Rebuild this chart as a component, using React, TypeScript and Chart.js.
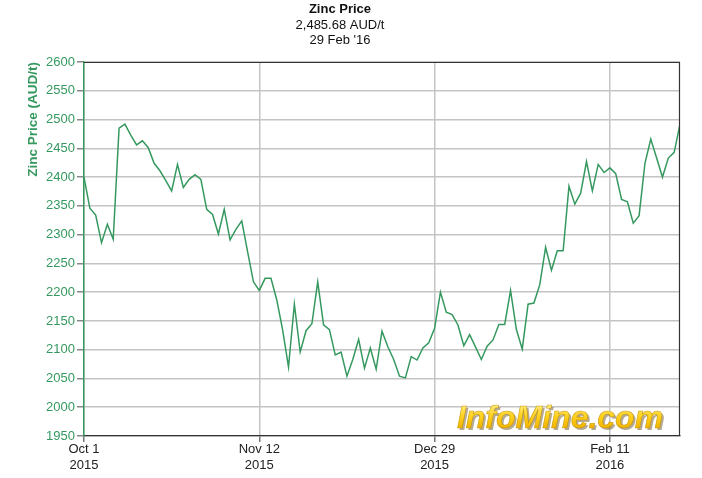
import { useEffect, useRef } from 'react';
import { Chart, registerables } from 'chart.js';

Chart.register(...registerables);

// Zinc price, AUD/t, daily from Oct 1 2015 to Feb 29 2016
const prices = [
  2400, 2346, 2334, 2286, 2318, 2292, 2485, 2492, 2473, 2456,
  2463, 2451, 2424, 2411, 2394, 2376, 2422, 2382, 2396, 2404,
  2396, 2344, 2335, 2301, 2344, 2291, 2309, 2324, 2270, 2218,
  2203, 2224, 2224, 2186, 2134, 2070, 2179, 2096, 2133, 2145,
  2218, 2143, 2135, 2091, 2096, 2054, 2083, 2118, 2068, 2103,
  2066, 2132, 2105, 2083, 2054, 2051, 2088, 2082, 2103, 2112,
  2137, 2200, 2165, 2161, 2143, 2107, 2126, 2105, 2083, 2106,
  2117, 2144, 2144, 2203, 2135, 2101, 2179, 2181, 2213, 2278,
  2238, 2272, 2272, 2384, 2353, 2372, 2427, 2376, 2422, 2408,
  2416, 2406, 2361, 2357, 2320, 2333, 2424, 2466, 2433, 2400,
  2433, 2443, 2492,
];

const tickIndex = [0, 30, 60, 90];
const tickDates = ['Oct 1', 'Nov 12', 'Dec 29', 'Feb 11'];
const tickYears = ['2015', '2015', '2015', '2016'];

const titleText = 'Zinc Price';
const subtitleLines = ['2,485.68 AUD/t', "29 Feb '16"];
const yAxisTitle = 'Zinc Price (AUD/t)';
const watermarkText = 'InfoMine.com';

const yMin = 1950;
const yMax = 2600;
const yStep = 50;

const GREEN = '#35995f';
const FONT = 'Arial, "Liberation Sans", Helvetica, sans-serif';

const framePlugin = {
  id: 'frame',
  afterDatasetsDraw(chart: any) {
    const { ctx, chartArea: a } = chart;
    ctx.save();
    ctx.lineWidth = 1.2;
    ctx.strokeStyle = '#333';
    ctx.beginPath();
    ctx.moveTo(a.left, a.top + 0.5);
    ctx.lineTo(a.right, a.top + 0.5);
    ctx.moveTo(a.right - 0.5, a.top);
    ctx.lineTo(a.right - 0.5, a.bottom);
    ctx.stroke();
    ctx.restore();
  },
};

const watermarkPlugin = {
  id: 'watermark',
  beforeDatasetsDraw(chart: any) {
    const { ctx, chartArea: a } = chart;
    ctx.save();
    ctx.font = `italic bold 32px ${FONT}`;
    ctx.textAlign = 'center';
    ctx.textBaseline = 'alphabetic';
    const cx = a.right - 120;
    const by = a.bottom - 8;
    ctx.fillStyle = 'rgba(120,100,60,0.55)';
    ctx.fillText(watermarkText, cx + 2, by + 2);
    const g = ctx.createLinearGradient(0, by - 24, 0, by);
    g.addColorStop(0, '#ffec80');
    g.addColorStop(0.5, '#ffd21f');
    g.addColorStop(1, '#f0b400');
    ctx.fillStyle = g;
    ctx.fillText(watermarkText, cx, by);
    ctx.lineWidth = 0.6;
    ctx.strokeStyle = 'rgba(190,140,0,0.8)';
    ctx.strokeText(watermarkText, cx, by);
    ctx.restore();
  },
};

export default function App() {
  const canvasRef = useRef<HTMLCanvasElement | null>(null);

  useEffect(() => {
    document.body.style.margin = '0';
    const canvas = canvasRef.current;
    if (!canvas) return;
    Chart.defaults.font.family = FONT;

    const chart = new Chart(canvas, {
      type: 'line',
      data: {
        datasets: [
          {
            data: prices.map((v, i) => ({ x: i, y: v })),
            borderColor: GREEN,
            borderWidth: 1.5,
            pointRadius: 0,
            tension: 0,
            fill: false,
          },
        ],
      },
      plugins: [watermarkPlugin, framePlugin],
      options: {
        responsive: false,
        animation: false,
        layout: { padding: { top: 0, right: 22, bottom: 0, left: 0 } },
        plugins: {
          legend: { display: false },
          tooltip: { enabled: false },
          title: {
            display: true,
            text: titleText,
            color: '#111',
            font: { size: 13, weight: 'bold', lineHeight: 1.2 },
            padding: { top: 2, bottom: 0 },
          },
          subtitle: {
            display: true,
            text: subtitleLines,
            color: '#111',
            font: { size: 13, lineHeight: 1.15 },
            padding: { top: 0, bottom: 14.5 },
          },
        },
        scales: {
          x: {
            type: 'linear',
            min: 0,
            max: prices.length - 1,
            afterBuildTicks(scale: any) {
              scale.ticks = tickIndex.map((v) => ({ value: v }));
            },
            afterFit(scale: any) {
              scale.height = 42;
            },
            ticks: {
              autoSkip: false,
              maxRotation: 0,
              padding: 0,
              color: '#222',
              font: { size: 13, lineHeight: 1.2 },
              callback(value: any) {
                const k = tickIndex.indexOf(Number(value));
                return k >= 0 ? [tickDates[k], tickYears[k]] : '';
              },
            },
            grid: {
              color: '#c4c4c4',
              lineWidth: 1.5,
              tickLength: 6,
              tickColor: '#777',
            },
            border: { color: '#333', width: 1.2 },
          },
          y: {
            min: yMin,
            max: yMax,
            afterFit(scale: any) {
              scale.width = 84;
            },
            ticks: {
              stepSize: yStep,
              padding: 2,
              color: GREEN,
              font: { size: 13 },
              callback(value: any) {
                return String(value);
              },
            },
            grid: {
              color: '#c4c4c4',
              lineWidth: 1.5,
              tickLength: 7,
              tickColor: '#888',
            },
            border: { color: GREEN, width: 1.5 },
            title: {
              display: true,
              text: yAxisTitle,
              align: 'end',
              color: GREEN,
              font: { size: 13.5, weight: 'bold', lineHeight: 1.2 },
              padding: { top: 25, bottom: 0 },
            },
          },
        },
      },
    });
    return () => chart.destroy();
  }, []);

  return (
    <div style={{ width: 702, height: 478 }}>
      <canvas ref={canvasRef} width={702} height={478} />
    </div>
  );
}
